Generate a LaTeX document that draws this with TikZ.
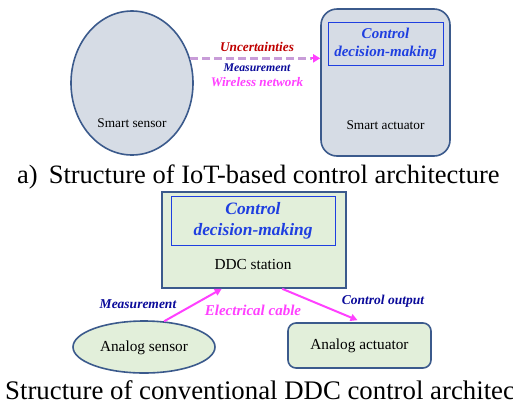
\documentclass[tikz,border=0pt]{standalone}
\usepackage{fontspec}
\setmainfont{Liberation Serif}
\usetikzlibrary{shapes.geometric,arrows.meta,calc}

\definecolor{shapeline}{HTML}{3B5A8C}
\definecolor{grayfill}{HTML}{D6DCE5}
\definecolor{greenfill}{HTML}{E2EFDA}
\definecolor{ctrlblue}{HTML}{1F3FE0}
\definecolor{navytext}{HTML}{0A0A9A}
\definecolor{darkred}{HTML}{C00000}
\definecolor{linkpink}{HTML}{FF40FF}
\definecolor{wirelessdash}{HTML}{C89CD8}

\tikzset{
  fs/.style={font=\fontsize{#1}{#1}\selectfont},
  plain/.style={inner sep=0pt, text=black},
  lbl/.style={inner sep=0pt, font=\bfseries\itshape\fontsize{#1}{#1}\selectfont},
  ctrltext/.style 2 args={inner sep=0pt, align=center, text=ctrlblue,
    font=\bfseries\itshape\fontsize{#1}{#2}\selectfont},
  devicegray/.style={draw=shapeline, line width=1.6pt, fill=grayfill},
  devicegreen/.style={draw=shapeline, line width=1.6pt, fill=greenfill},
  ctrlbox/.style={draw=ctrlblue, line width=0.8pt, rectangle, inner sep=0pt},
  cable/.style={draw=linkpink, line width=2pt, -{Triangle[length=7pt,width=7pt]}},
}

\begin{document}
\begin{tikzpicture}[x=1pt, y=-1pt]
\clip (0,0) rectangle (513,405);
\fill[white] (0,0) rectangle (513,405);

% ---- IoT-based architecture ----
\node[devicegray, ellipse, minimum width=122pt, minimum height=144pt, inner sep=0pt]
  (sensor) at (132,83) {};
\node[plain, fs=13.3] (sensortext) at (132,123) {Smart sensor};

\node[devicegray, rectangle, rounded corners=16pt, minimum width=129pt,
  minimum height=147pt, inner sep=0pt] (act) at (385.5,82.5) {};
\node[ctrlbox, minimum width=115pt, minimum height=43pt] (actctrl) at (385.5,43.5) {};
\node[ctrltext={15}{18}] (actctrltext) at (385.5,44) {Control\\decision-making};
\node[plain, fs=13.3] (acttext) at (385.5,125) {Smart actuator};

\draw[wirelessdash, line width=2.6pt, dash pattern=on 8pt off 4pt]
  (sensor.23) -- ($(sensor.23 -| act.west)+(-8,0)$);
\draw[linkpink, line width=2pt, -{Triangle[length=7pt,width=8pt]}]
  ($(sensor.23 -| act.west)+(-9,0)$) -- (sensor.23 -| act.west);

\node[lbl=13.3, text=darkred] (uncert) at (257,47) {Uncertainties};
\node[lbl=11.8, text=navytext] (meas1) at (257,68) {Measurement};
\node[lbl=13.1, text=linkpink] (wireless) at (257,82) {Wireless network};

\node[plain, fs=26.5, anchor=base west] (capa) at (17,183)
  {a)\hspace{11pt}Structure of IoT-based control architecture};

% ---- conventional DDC architecture ----
\node[devicegreen, rectangle, minimum width=184pt, minimum height=96pt, inner sep=0pt]
  (ddc) at (254,240) {};
\node[ctrlbox, minimum width=164pt, minimum height=49pt] (ddcctrl) at (253,220.5) {};
\node[ctrltext={17.4}{21}] (ddcctrltext) at (253,221) {Control\\decision-making};
\node[plain, fs=15.3] (ddctext) at (253,265) {DDC station};

\node[devicegreen, ellipse, minimum width=142pt, minimum height=52pt, inner sep=0pt]
  (asensor) at (144,347) {};
\node[plain, fs=15.3] (asensortext) at (144,348) {Analog sensor};

\node[devicegreen, rectangle, rounded corners=8pt, minimum width=143pt,
  minimum height=45pt, inner sep=0pt] (aact) at (359.5,345.5) {};
\node[plain, fs=15.3] (aacttext) at (359.5,346) {Analog actuator};

\draw[cable] (asensor.52) -- ($(ddc.south west)!0.326!(ddc.south east)$);
\draw[cable] ($(ddc.south west)!0.652!(ddc.south east)$) -- ($(aact.north)+(-2,-2)$);

\node[lbl=13.5, text=navytext] (meas2) at (138,304) {Measurement};
\node[lbl=15, text=linkpink] (cable) at (253,310) {Electrical cable};
\node[lbl=13.5, text=navytext] (ctrlout) at (383,301) {Control output};

\node[plain, fs=26.8, anchor=base west] (capb) at (5,399)
  {Structure of conventional DDC control architecture};
\end{tikzpicture}
\end{document}
